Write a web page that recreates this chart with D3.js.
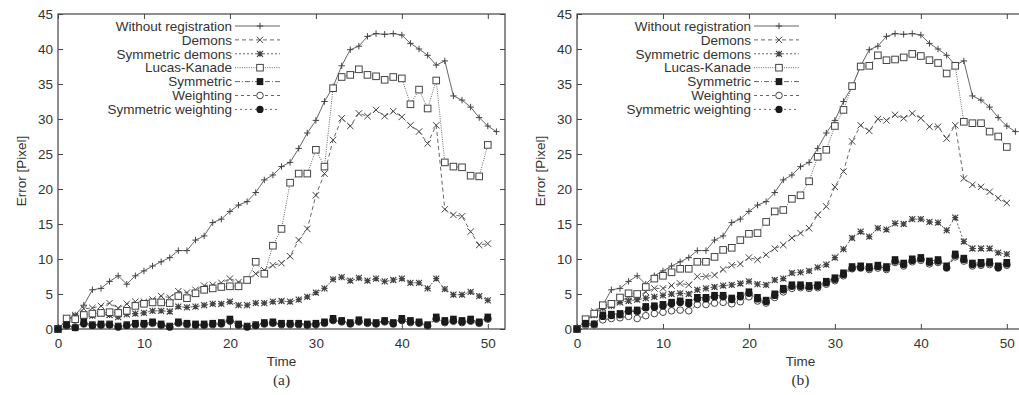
<!DOCTYPE html>
<html><head><meta charset="utf-8">
<script src="https://cdn.jsdelivr.net/npm/d3@7/dist/d3.min.js"></script>
<style>body{margin:0;background:#fff}svg{display:block}</style>
</head><body><svg id="c" width="1019" height="395"></svg>
<script>
// ---------- DATA ----------
const seriesNames = ["Without registration","Demons","Symmetric demons","Lucas-Kanade","Symmetric","Weighting","Symmetric weighting"];
const xTicks = [0,10,20,30,40,50];
const yTicks = [0,5,10,15,20,25,30,35,40,45];
const panelLabels = ["(a)","(b)"];
const xLabel = "Time";
const yLabel = "Error [Pixel]";

// values indexed by time step 0,1,2,...
const withoutReg = [0,1.2,2.0,3.4,5.6,5.8,6.8,7.6,6.4,7.6,8.3,9.0,9.6,10.2,11.2,11.2,12.7,13.3,15.2,15.7,16.8,17.7,18.2,19.5,21.3,22.0,23.2,23.8,25.8,28.0,29.8,32.5,34.6,37.6,39.9,40.4,41.8,42.2,42.1,42.2,42.0,40.8,40.0,39.1,37.7,38.3,33.3,32.7,31.7,30.2,29.0,28.2];

const demonsA = [0,1.2,2.0,2.9,3.0,3.3,3.7,3.0,3.6,3.9,3.9,4.2,4.7,4.5,5.4,5.2,5.6,6.2,6.3,6.6,7.2,6.7,7.0,7.9,8.4,9.1,9.4,10.4,12.7,14.3,19.1,22.2,27.0,30.1,29.0,30.8,30.4,31.3,30.4,31.1,30.3,29.1,28.2,26.5,29.1,17.1,16.3,16.1,13.9,12.0,12.2];
const symDemonsA = [0,1.3,1.8,2.1,1.9,2.2,2.0,1.7,2.1,2.2,2.3,2.6,2.6,2.5,3.2,3.1,3.2,3.4,3.6,3.6,3.9,3.4,3.4,3.7,3.7,3.9,4.0,3.9,4.2,4.6,5.2,5.8,7.1,7.4,6.9,7.3,6.9,7.2,6.8,7.0,7.2,6.6,6.6,5.8,7.2,5.7,4.9,4.9,5.3,4.7,4.1];
const lucasKanadeA = [0,1.5,1.4,2.0,2.2,2.3,2.4,2.3,2.6,3.3,3.6,3.8,3.8,3.7,4.7,4.4,5.1,5.6,5.8,6.0,6.1,6.1,7.0,9.6,7.9,11.9,14.3,20.9,22.2,22.2,25.6,23.2,34.4,36.0,36.3,37.1,36.3,36.1,35.6,36.0,35.8,32.1,34.2,31.5,35.5,23.8,23.2,23.1,21.9,21.8,26.3];
const symmetricA = [0,0.6,0.2,1.0,0.6,0.7,0.7,0.4,0.6,0.8,0.8,1.0,0.7,0.4,1.0,0.8,0.7,0.7,0.8,0.9,1.4,0.7,0.4,0.6,0.9,1.0,0.8,0.8,0.8,0.7,0.8,1.0,1.5,1.2,0.9,1.3,1.0,0.9,1.2,0.9,1.5,1.2,1.0,0.6,1.7,1.2,1.4,1.2,1.4,1.0,1.7];
const weightingA = [0,0.4,0.3,0.7,0.5,0.5,0.6,0.3,0.5,0.6,0.6,0.8,0.5,0.3,0.8,0.6,0.5,0.5,0.6,0.7,1.1,0.5,0.3,0.5,0.7,0.8,0.6,0.6,0.6,0.5,0.6,0.8,1.2,1.0,0.7,1.0,0.8,0.7,1.0,0.7,1.2,0.9,0.8,0.4,1.4,0.9,1.1,0.9,1.1,0.8,1.4];
const symWeightingA = [0,0.5,0.2,0.8,0.5,0.6,0.6,0.3,0.5,0.7,0.7,0.9,0.6,0.3,0.9,0.7,0.6,0.6,0.7,0.8,1.2,0.6,0.3,0.5,0.8,0.9,0.7,0.7,0.7,0.6,0.7,0.9,1.3,1.1,0.8,1.1,0.9,0.8,1.1,0.8,1.3,1.0,0.9,0.5,1.5,1.0,1.2,1.0,1.2,0.9,1.5];

const demonsB = [0,1.3,2.5,3.3,3.5,3.9,4.6,4.7,5.3,5.8,5.8,6.2,6.5,6.3,7.5,7.5,7.7,8.5,9.1,9.3,10.2,9.9,10.6,11.5,12.0,13.0,13.7,14.4,16.3,17.5,20.3,22.5,26.8,29.1,28.3,30.0,29.8,30.6,30.1,30.8,30.1,28.9,28.9,27.2,29.1,21.5,20.6,20.3,19.6,18.7,18.0];
const symDemonsB = [0,1.3,2.0,3.0,3.3,3.8,4.0,4.2,4.4,4.6,4.8,5.0,5.1,5.0,5.6,5.8,6.0,6.2,6.3,6.5,6.8,6.4,6.3,7.0,7.2,8.0,8.1,8.3,8.8,9.2,10.2,11.4,13.0,13.9,13.2,14.4,14.2,15.1,15.0,15.7,15.7,15.3,15.2,14.1,15.9,12.5,11.5,11.5,11.5,10.9,10.7];
const lucasKanadeB = [0,1.4,2.2,3.4,3.6,4.5,5.1,5.0,6.0,7.2,7.6,8.1,8.6,8.6,9.6,9.6,10.3,11.3,11.6,12.7,13.6,13.7,15.3,16.8,17.0,18.6,19.1,21.1,24.6,25.6,29.0,31.3,34.7,37.5,37.6,39.1,38.4,38.5,38.8,39.3,39.0,38.4,38.0,36.5,37.6,29.6,29.4,29.4,28.2,27.5,26.0];
const symmetricB = [0,0.8,0.7,2.0,2.1,2.2,2.7,2.7,3.2,3.3,3.5,3.8,4.0,3.8,4.5,4.5,4.8,4.8,4.4,4.8,5.3,4.5,4.1,5.0,5.8,6.3,6.3,6.2,6.3,6.8,7.3,8.0,8.9,9.0,8.9,9.1,8.9,9.9,9.4,10.0,10.2,9.7,9.9,9.0,10.7,10.1,9.4,9.5,9.6,9.0,9.5];
const weightingB = [0,0.5,0.6,1.3,1.5,1.6,1.8,1.5,1.9,2.2,2.4,2.6,2.7,2.6,3.5,3.5,3.7,3.8,3.6,3.9,4.6,4.0,3.7,4.5,5.3,5.8,5.9,5.8,5.9,6.4,6.9,7.6,8.6,8.7,8.5,8.7,8.5,9.5,9.0,9.6,9.8,9.3,9.5,8.7,10.3,9.7,9.0,9.1,9.2,8.7,9.1];
const symWeightingB = [0,0.7,0.7,1.8,1.9,2.0,2.5,2.5,3.0,3.1,3.3,3.6,3.8,3.6,4.3,4.3,4.6,4.6,4.2,4.6,5.1,4.3,3.9,4.8,5.6,6.1,6.1,6.0,6.1,6.6,7.1,7.8,8.7,8.8,8.7,8.9,8.7,9.7,9.2,9.8,10.0,9.5,9.7,8.8,10.5,9.9,9.2,9.3,9.4,8.8,9.3];

const panelA = [withoutReg, demonsA, symDemonsA, lucasKanadeA, symmetricA, weightingA, symWeightingA];
const panelB = [withoutReg, demonsB, symDemonsB, lucasKanadeB, symmetricB, weightingB, symWeightingB];

// ---------- STYLE ----------
const markers = ["plus","cross","star","square","fsquare","circle","fcircle"];
const dashes = [null,"4,3","2,2","1,1.3","5,2,1,2","3,3","2,3"];
const lineCol = "#666", markCol = "#444", textCol = "#333";
const FONT = "'Liberation Sans', Arial, Helvetica, sans-serif";

const svg = d3.select("#c");
const plotTop = 14, plotBottom = 329, plotW = 447;
const y = d3.scaleLinear().domain([0,45]).range([plotBottom, plotTop]);

function drawMarker(g, type, cx, cy) {
  const s = 3.2;
  if (type === "plus") {
    g.append("path").attr("d", `M${cx-s},${cy}H${cx+s}M${cx},${cy-s}V${cy+s}`).attr("stroke", markCol).attr("fill","none");
  } else if (type === "cross") {
    g.append("path").attr("d", `M${cx-s},${cy-s}L${cx+s},${cy+s}M${cx-s},${cy+s}L${cx+s},${cy-s}`).attr("stroke", markCol).attr("fill","none");
  } else if (type === "star") {
    const t = 3;
    g.append("path").attr("d", `M${cx-t},${cy-t}L${cx+t},${cy+t}M${cx-t},${cy+t}L${cx+t},${cy-t}M${cx-t},${cy}H${cx+t}M${cx},${cy-t}V${cy+t}`).attr("stroke", markCol).attr("stroke-width",1.2).attr("fill","none");
  } else if (type === "square") {
    g.append("rect").attr("x", cx-3.3).attr("y", cy-3.3).attr("width",6.6).attr("height",6.6).attr("fill","#fff").attr("stroke", markCol);
  } else if (type === "fsquare") {
    g.append("rect").attr("x", cx-3.3).attr("y", cy-3.5).attr("width",6.6).attr("height",7).attr("fill", "#1a1a1a");
  } else if (type === "circle") {
    g.append("circle").attr("cx", cx).attr("cy", cy).attr("r", 3.3).attr("fill","#fff").attr("stroke", markCol);
  } else if (type === "fcircle") {
    g.append("circle").attr("cx", cx).attr("cy", cy).attr("r", 3.6).attr("fill","#1a1a1a");
  }
}

function drawPanel(left, seriesList, label) {
  const x = d3.scaleLinear().domain([0,52]).range([left, left + plotW]);
  const g = svg.append("g");

  const styleAxis = sel => {
    sel.select(".domain").remove();
    sel.selectAll(".tick line").attr("stroke", "#444");
    sel.selectAll(".tick text").attr("fill", textCol).style("font-family", FONT).style("font-size","13.5px");
  };
  g.append("g").attr("transform", `translate(${left},0)`)
    .call(d3.axisLeft(y).tickValues(yTicks).tickSize(-5).tickPadding(5)).call(styleAxis);
  g.append("g").attr("transform", `translate(${left+plotW},0)`)
    .call(d3.axisRight(y).tickValues(yTicks).tickSize(-5).tickFormat("")).call(styleAxis);
  g.append("g").attr("transform", `translate(0,${plotBottom})`)
    .call(d3.axisBottom(x).tickValues(xTicks).tickSize(-5).tickPadding(9)).call(styleAxis);
  g.append("g").attr("transform", `translate(0,${plotTop})`)
    .call(d3.axisTop(x).tickValues(xTicks).tickSize(-5).tickFormat("")).call(styleAxis);

  g.append("rect").attr("x", left).attr("y", plotTop).attr("width", plotW).attr("height", plotBottom-plotTop)
    .attr("fill","none").attr("stroke","#444").attr("stroke-width",1.2);

  const line = d3.line().x((d,i) => x(i)).y(d => y(d));
  seriesList.forEach((vals, k) => {
    const sg = g.append("g");
    sg.append("path").attr("d", line(vals)).attr("fill","none").attr("stroke", lineCol)
      .attr("stroke-width", 1).attr("stroke-dasharray", dashes[k]);
    vals.forEach((v,i) => drawMarker(sg, markers[k], x(i), y(v)));
  });

  seriesNames.forEach((name, k) => {
    const cy = 26 + k * 13.9;
    g.append("text").attr("x", left + 174).attr("y", cy + 4.7).attr("text-anchor","end")
      .attr("font-family", FONT).attr("font-size","13.5px").attr("fill", textCol).text(name);
    g.append("line").attr("x1", left + 177).attr("x2", left + 222).attr("y1", cy).attr("y2", cy)
      .attr("stroke", lineCol).attr("stroke-dasharray", dashes[k]);
    drawMarker(g, markers[k], left + 202, cy);
  });

  const mid = left + plotW/2;
  g.append("text").attr("x", mid).attr("y", 366).attr("text-anchor","middle")
    .attr("font-family", FONT).attr("font-size","13.5px").attr("fill", textCol).text(xLabel);
  g.append("text").attr("transform", `translate(${left-32},171) rotate(-90)`).attr("text-anchor","middle")
    .attr("font-family", FONT).attr("font-size","13.5px").attr("fill", textCol).text(yLabel);
  g.append("text").attr("x", mid).attr("y", 385).attr("text-anchor","middle")
    .attr("font-family", "'Liberation Serif', 'Times New Roman', serif").attr("font-size","15.5px").attr("fill", textCol).text(label);
}

drawPanel(58, panelA, panelLabels[0]);
drawPanel(577, panelB, panelLabels[1]);
</script>
</body></html>
